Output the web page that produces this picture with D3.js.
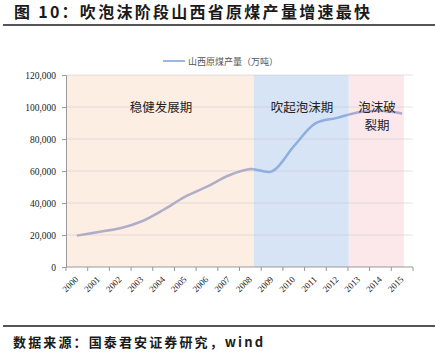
<!DOCTYPE html>
<html><head><meta charset="utf-8">
<script src="https://cdn.jsdelivr.net/npm/d3@7"></script>
<style>body{margin:0;background:#fff}svg{display:block}</style>
</head><body>
<script>
const years = ["2000","2001","2002","2003","2004","2005","2006","2007","2008","2009","2010","2011","2012","2013","2014","2015"];
const output = [19600, 21900, 24200, 28600, 35800, 44000, 50200, 57200, 61200, 59800, 75400, 89800, 93200, 96700, 97600, 95900];
const yTicks = [0, 20000, 40000, 60000, 80000, 100000, 120000];
const phaseNames = ["稳健发展期", "吹起泡沫期", "泡沫破裂期"];
const phaseStart = [1999.5, 2008.16, 2012.54];
const phaseEnd = [2008.16, 2012.54, 2015.08];
const phaseFill = ["#FDEEE3", "#D6E4F6", "#FCE8EA"];
const phaseLine = ["#AFADC8", "#8EAEE0", "#A9AAD0"];

const W = 436, H = 355;
const svg = d3.select("body").append("svg").attr("width", W).attr("height", H);

const L = 66, R = 413, T = 75, B = 267;
const x = d3.scaleBand().domain(years).range([L, R]);
const xc = d3.scaleLinear().domain([1999.5, 2015.5]).range([L, R]);
const y = d3.scaleLinear().domain([0, 120000]).range([B, T]);

// title
svg.append("text").attr("x", 14).attr("y", 18)
  .attr("font-family", "Noto Sans CJK SC").attr("font-weight", 700).attr("font-size", 16)
  .attr("fill", "#1a1a1a").attr("textLength", 356).attr("lengthAdjust", "spacing")
  .text("图 10：吹泡沫阶段山西省原煤产量增速最快");
svg.append("line").attr("x1", 3).attr("x2", 435).attr("y1", 25).attr("y2", 25)
  .attr("stroke", "#555").attr("stroke-width", 2);

// legend
svg.append("line").attr("x1", 163).attr("x2", 185).attr("y1", 61).attr("y2", 61)
  .attr("stroke", "#9DB7E2").attr("stroke-width", 2);
svg.append("text").attr("x", 188).attr("y", 64.5)
  .attr("font-family", "Noto Sans CJK SC").attr("font-size", 9).attr("fill", "#555")
  .text("山西原煤产量（万吨）");

// phases
phaseNames.forEach((n, i) => {
  svg.append("rect").attr("x", xc(phaseStart[i])).attr("y", T)
    .attr("width", xc(phaseEnd[i]) - xc(phaseStart[i])).attr("height", B - T)
    .attr("fill", phaseFill[i]);
  svg.append("clipPath").attr("id", "cp" + i).append("rect")
    .attr("x", xc(phaseStart[i])).attr("y", 0)
    .attr("width", xc(phaseEnd[i]) - xc(phaseStart[i])).attr("height", H);
});

// gridlines
svg.append("g").selectAll("line").data(yTicks.slice(1)).join("line")
  .attr("x1", L).attr("x2", R).attr("y1", d => y(d)).attr("y2", d => y(d))
  .attr("stroke", "rgba(190,190,190,0.45)").attr("stroke-width", 1);

// line
const lineGen = d3.line().x((d, i) => x(years[i]) + x.bandwidth() / 2).y(d => y(d))
  .curve(d3.curveCatmullRom.alpha(0.5));
phaseNames.forEach((n, i) => {
  svg.append("path").datum(output).attr("d", lineGen).attr("fill", "none")
    .attr("stroke", phaseLine[i]).attr("stroke-width", 2.5)
    .attr("clip-path", `url(#cp${i})`);
});

// axes
const yAxis = d3.axisLeft(y).tickValues(yTicks).tickSize(4).tickPadding(6)
  .tickFormat(d3.format(","));
const gy = svg.append("g").attr("transform", `translate(${L},0)`).call(yAxis);
gy.select(".domain").attr("stroke", "#999");
gy.selectAll(".tick line").attr("stroke", "#999");
gy.selectAll("text").attr("font-family", "Liberation Serif").attr("font-size", 9.5).attr("fill", "#222");

const gx = svg.append("g").attr("transform", `translate(0,${B})`);
gx.append("line").attr("x1", L).attr("x2", R).attr("y1", 0).attr("y2", 0).attr("stroke", "#999");
const edges = years.map(d => x(d)).concat([R]);
gx.selectAll("line.t").data(edges).join("line").attr("class", "t")
  .attr("x1", d => d).attr("x2", d => d).attr("y1", 0).attr("y2", 4).attr("stroke", "#999");
gx.selectAll("text").data(years).join("text")
  .attr("transform", d => `translate(${x(d) + x.bandwidth() / 2 + 2},${13}) rotate(-45)`)
  .attr("text-anchor", "end").attr("font-family", "Liberation Serif").attr("font-size", 9)
  .attr("fill", "#222").text(d => d);

// phase labels
const lab = svg.append("g").attr("font-family", "Noto Sans CJK SC").attr("font-size", 12.5)
  .attr("fill", "#222").attr("text-anchor", "middle");
lab.append("text").attr("x", 161).attr("y", 112).text(phaseNames[0]);
lab.append("text").attr("x", 302).attr("y", 112).text(phaseNames[1]);
lab.append("text").attr("x", 377).attr("y", 112).text(phaseNames[2].slice(0, 3));
lab.append("text").attr("x", 377).attr("y", 130).text(phaseNames[2].slice(3));

// footer
svg.append("line").attr("x1", 3).attr("x2", 435).attr("y1", 326).attr("y2", 326)
  .attr("stroke", "#555").attr("stroke-width", 2);
svg.append("text").attr("x", 13).attr("y", 347)
  .attr("font-family", "Noto Sans CJK SC").attr("font-weight", 700).attr("font-size", 13)
  .attr("fill", "#1a1a1a").attr("textLength", 250).attr("lengthAdjust", "spacing")
  .text("数据来源：国泰君安证券研究，wind");
</script>
</body></html>
